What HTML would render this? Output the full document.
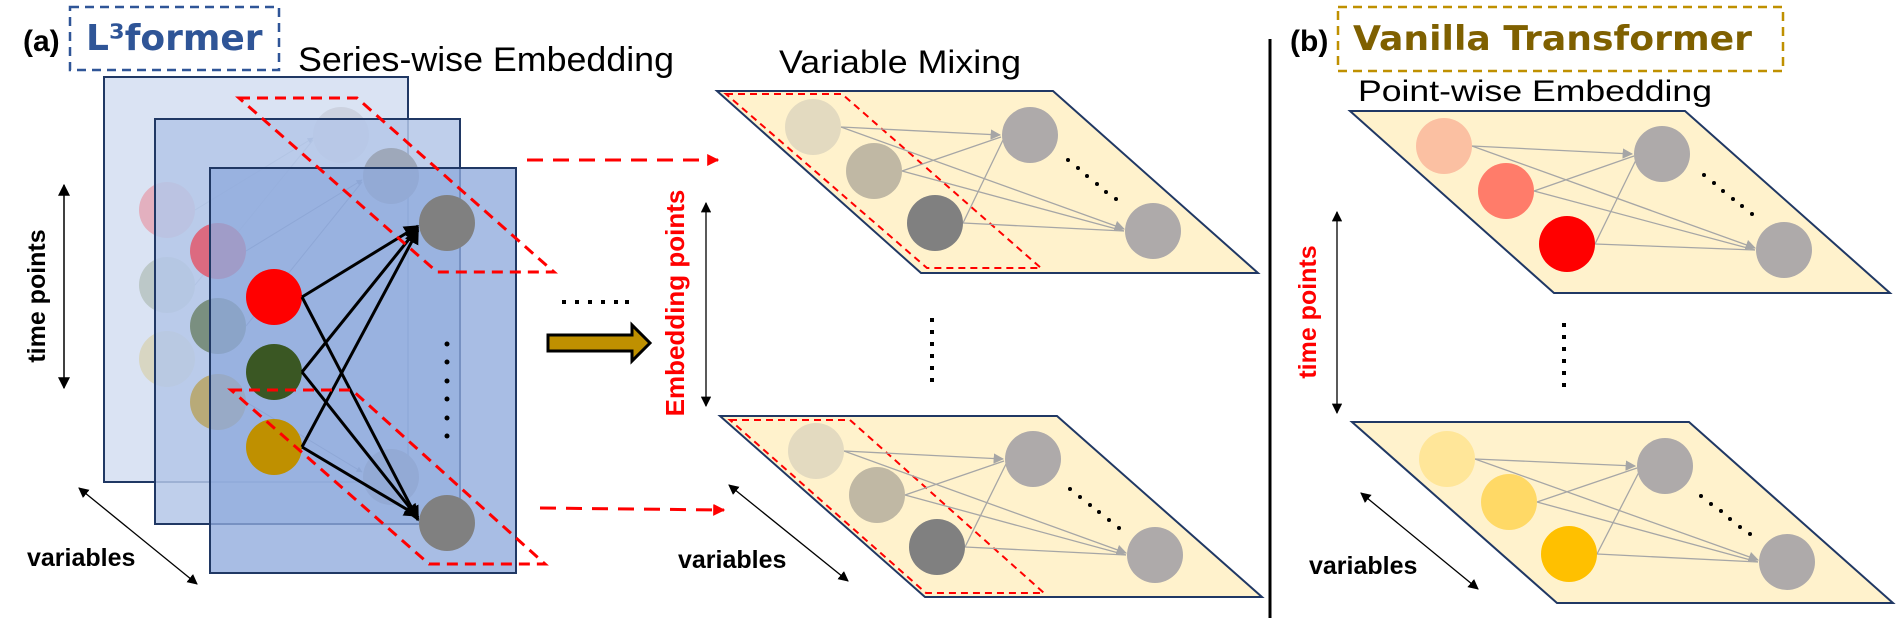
<!DOCTYPE html>
<html><head><meta charset="utf-8"><style>
html,body{margin:0;padding:0;background:#fff;}
svg{display:block;font-family:"Liberation Sans",sans-serif;}
</style></head><body>
<svg width="1896" height="618" viewBox="0 0 1896 618">
<defs>
<marker id="ab" viewBox="0 0 10 10" refX="9" refY="5" markerWidth="5" markerHeight="5" orient="auto"><path d="M0,0L10,5L0,10z" fill="#000"/></marker>
<marker id="ag" viewBox="0 0 10 10" refX="9" refY="5" markerWidth="8" markerHeight="8" orient="auto"><path d="M0,0L10,5L0,10z" fill="#a6a6a6"/></marker>
<marker id="ar" viewBox="0 0 10 10" refX="9" refY="5" markerWidth="4" markerHeight="4" orient="auto"><path d="M0,0L10,5L0,10z" fill="#ff0000"/></marker>
<marker id="ak" viewBox="0 0 10 10" refX="9" refY="5" markerWidth="8" markerHeight="8" orient="auto-start-reverse"><path d="M0,0L10,5L0,10z" fill="#000"/></marker>
<marker id="af" viewBox="0 0 10 10" refX="9" refY="5" markerWidth="6" markerHeight="6" orient="auto"><path d="M0,0L10,5L0,10z" fill="#8a9cc0"/></marker>
</defs>

<!-- Panel (a) -->
<text x="23" y="51" font-size="30" font-weight="bold">(a)</text>
<rect x="70" y="7" width="209" height="63" fill="none" stroke="#2f5597" stroke-width="2.5" stroke-dasharray="9,6"/>
<text x="86" y="50" font-size="36" font-weight="bold" fill="#2f5597" font-family="DejaVu Sans, sans-serif">L³former</text>
<text x="298" y="71" font-size="34" textLength="376" lengthAdjust="spacingAndGlyphs">Series-wise Embedding</text>

<g>
<rect x="104" y="77" width="304" height="405" fill="#dae3f3" stroke="#203864" stroke-width="2"/>
<circle cx="167" cy="210" r="28" fill="#e3b0bf"/>
<circle cx="167" cy="285" r="28" fill="#bcc8c8"/>
<circle cx="167" cy="359" r="28" fill="#d8d6c2"/>
<circle cx="341" cy="135" r="28" fill="#ccd2e0"/>
<line x1="195" y1="210" x2="313" y2="138" stroke="#a8b4cc" stroke-width="1" marker-end="url(#af)"/>
<line x1="195" y1="285" x2="313" y2="140" stroke="#a8b4cc" stroke-width="1"/>
</g>
<g>
<rect x="155" y="119" width="305" height="405" fill="#b4c7e7" fill-opacity="0.85" stroke="#203864" stroke-width="2"/>
<circle cx="218" cy="251" r="28" fill="#dc6a80"/>
<circle cx="218" cy="326" r="28" fill="#7a8f80"/>
<circle cx="218" cy="402" r="28" fill="#b8aa78"/>
<circle cx="391" cy="176" r="28" fill="#9ea8ba"/>
<circle cx="391" cy="477" r="28" fill="#9ea8ba"/>
<line x1="246" y1="251" x2="362" y2="180" stroke="#8a9cc0" stroke-width="1" marker-end="url(#af)"/>
<line x1="246" y1="326" x2="362" y2="182" stroke="#8a9cc0" stroke-width="1"/>
<line x1="246" y1="402" x2="362" y2="472" stroke="#8a9cc0" stroke-width="1" marker-end="url(#af)"/>
</g>
<g>
<rect x="210" y="168" width="306" height="405" fill="#8faadc" fill-opacity="0.78" stroke="#203864" stroke-width="2"/>
<circle cx="274" cy="297" r="28" fill="#ff0000"/>
<circle cx="274" cy="372" r="28" fill="#3a5723"/>
<circle cx="274" cy="447" r="28" fill="#bf9000"/>
<circle cx="447" cy="223" r="28" fill="#808080"/>
<circle cx="447" cy="523" r="28" fill="#808080"/>
<g fill="#000"><circle cx="447" cy="344" r="2.5"/><circle cx="447" cy="362" r="2.5"/><circle cx="447" cy="381" r="2.5"/><circle cx="447" cy="399" r="2.5"/><circle cx="447" cy="418" r="2.5"/><circle cx="447" cy="436" r="2.5"/></g>
<g stroke="#000" stroke-width="3" fill="none">
<line x1="302" y1="297" x2="418" y2="226" marker-end="url(#ab)"/>
<line x1="302" y1="372" x2="418" y2="228" marker-end="url(#ab)"/>
<line x1="302" y1="447" x2="418" y2="230" marker-end="url(#ab)"/>
<line x1="302" y1="297" x2="418" y2="520" marker-end="url(#ab)"/>
<line x1="302" y1="372" x2="418" y2="518" marker-end="url(#ab)"/>
<line x1="302" y1="447" x2="418" y2="516" marker-end="url(#ab)"/>
</g>
</g>
<polygon points="239,98 357,98 554,272 437,272" fill="none" stroke="#ff0000" stroke-width="3" stroke-dasharray="11,7"/>
<polygon points="231,390 352,390 545,564 429,564" fill="none" stroke="#ff0000" stroke-width="3" stroke-dasharray="11,7"/>

<line x1="64" y1="185" x2="64" y2="388" stroke="#000" stroke-width="1.5" marker-start="url(#ak)" marker-end="url(#ak)"/>
<text transform="translate(45,296) rotate(-90)" text-anchor="middle" font-size="25" font-weight="bold">time points</text>
<line x1="79" y1="488" x2="197" y2="584" stroke="#000" stroke-width="1.3" marker-start="url(#ak)" marker-end="url(#ak)"/>
<text x="27" y="566" font-size="25" font-weight="bold">variables</text>

<line x1="527" y1="160" x2="718" y2="160" stroke="#ff0000" stroke-width="3" stroke-dasharray="16,10" marker-end="url(#ar)"/>
<line x1="540" y1="508" x2="724" y2="510" stroke="#ff0000" stroke-width="3" stroke-dasharray="16,10" marker-end="url(#ar)"/>
<g fill="#000"><rect x="562" y="300" width="4" height="4"/><rect x="575" y="300" width="4" height="4"/><rect x="588" y="300" width="4" height="4"/><rect x="601" y="300" width="4" height="4"/><rect x="614" y="300" width="4" height="4"/><rect x="625" y="300" width="4" height="4"/></g>
<polygon points="548,335 632,335 632,325 650,343 632,361 632,351 548,351" fill="#bf9000" stroke="#000" stroke-width="3"/>
<text transform="translate(684,303) rotate(-90)" text-anchor="middle" font-size="26" font-weight="bold" fill="#ff0000">Embedding points</text>
<line x1="706" y1="203" x2="706" y2="406" stroke="#000" stroke-width="1.3" marker-start="url(#ak)" marker-end="url(#ak)"/>
<text x="779" y="73" font-size="32" textLength="242" lengthAdjust="spacingAndGlyphs">Variable Mixing</text>

<g>
<polygon points="717,91 1053,91 1258,273 921,273" fill="#fff2cc" stroke="#203864" stroke-width="2"/>
<polygon points="726,94 842,94 1041,268 927,268" fill="none" stroke="#ff0000" stroke-width="2" stroke-dasharray="7,5"/>
<g stroke="#a6a6a6" stroke-width="1.3" fill="none">
<line x1="841" y1="127" x2="1000" y2="135" marker-end="url(#ag)"/>
<line x1="841" y1="127" x2="1124" y2="229" marker-end="url(#ag)"/>
<line x1="902" y1="171" x2="1001" y2="137"/>
<line x1="902" y1="171" x2="1124" y2="231"/>
<line x1="963" y1="223" x2="1003" y2="140"/>
<line x1="963" y1="223" x2="1124" y2="231"/>
</g>
<circle cx="813" cy="127" r="28" fill="#e3dac0"/>
<circle cx="874" cy="171" r="28" fill="#c0b8a4"/>
<circle cx="935" cy="223" r="28" fill="#808080"/>
<circle cx="1030" cy="135" r="28" fill="#aeaaaa"/>
<circle cx="1153" cy="231" r="28" fill="#aeaaaa"/>
<g fill="#000"><circle cx="1068" cy="160" r="2"/><circle cx="1078" cy="168" r="2"/><circle cx="1087" cy="176" r="2"/><circle cx="1097" cy="184" r="2"/><circle cx="1106" cy="192" r="2"/><circle cx="1116" cy="199" r="2"/></g>
</g>
<g fill="#000"><rect x="930" y="318" width="4" height="4"/><rect x="930" y="330" width="4" height="4"/><rect x="930" y="342" width="4" height="4"/><rect x="930" y="354" width="4" height="4"/><rect x="930" y="366" width="4" height="4"/><rect x="930" y="378" width="4" height="4"/></g>
<g>
<polygon points="720,416 1057,416 1262,597 925,597" fill="#fff2cc" stroke="#203864" stroke-width="2"/>
<polygon points="730,420 850,420 1044,593 926,593" fill="none" stroke="#ff0000" stroke-width="2" stroke-dasharray="7,5"/>
<g stroke="#a6a6a6" stroke-width="1.3" fill="none">
<line x1="844" y1="451" x2="1003" y2="459" marker-end="url(#ag)"/>
<line x1="844" y1="451" x2="1126" y2="553" marker-end="url(#ag)"/>
<line x1="905" y1="495" x2="1004" y2="461"/>
<line x1="905" y1="495" x2="1126" y2="555"/>
<line x1="965" y1="547" x2="1006" y2="464"/>
<line x1="965" y1="547" x2="1126" y2="555"/>
</g>
<circle cx="816" cy="451" r="28" fill="#e3dac0"/>
<circle cx="877" cy="495" r="28" fill="#c0b8a4"/>
<circle cx="937" cy="547" r="28" fill="#808080"/>
<circle cx="1033" cy="459" r="28" fill="#aeaaaa"/>
<circle cx="1155" cy="555" r="28" fill="#aeaaaa"/>
<g fill="#000"><circle cx="1070" cy="489" r="2"/><circle cx="1080" cy="497" r="2"/><circle cx="1090" cy="505" r="2"/><circle cx="1099" cy="512" r="2"/><circle cx="1109" cy="520" r="2"/><circle cx="1119" cy="528" r="2"/></g>
</g>
<line x1="729" y1="485" x2="848" y2="581" stroke="#000" stroke-width="1.3" marker-start="url(#ak)" marker-end="url(#ak)"/>
<text x="678" y="568" font-size="25" font-weight="bold">variables</text>

<line x1="1270" y1="39" x2="1270" y2="618" stroke="#000" stroke-width="3"/>

<!-- Panel (b) -->
<text x="1290" y="51" font-size="30" font-weight="bold">(b)</text>
<rect x="1338" y="7" width="445" height="64" fill="none" stroke="#bf9000" stroke-width="2.5" stroke-dasharray="9,6"/>
<text x="1353" y="50" font-size="34" font-weight="bold" fill="#7f6000" font-family="DejaVu Sans, sans-serif" textLength="399" lengthAdjust="spacingAndGlyphs">Vanilla Transformer</text>
<text x="1358" y="101" font-size="30" textLength="354" lengthAdjust="spacingAndGlyphs">Point-wise Embedding</text>

<g>
<polygon points="1350,111 1685,111 1890,293 1554,293" fill="#fff2cc" stroke="#203864" stroke-width="2"/>
<g stroke="#a6a6a6" stroke-width="1.3" fill="none">
<line x1="1472" y1="146" x2="1632" y2="154" marker-end="url(#ag)"/>
<line x1="1472" y1="146" x2="1755" y2="248" marker-end="url(#ag)"/>
<line x1="1534" y1="191" x2="1634" y2="156"/>
<line x1="1534" y1="191" x2="1755" y2="250"/>
<line x1="1595" y1="244" x2="1636" y2="160"/>
<line x1="1595" y1="244" x2="1755" y2="250"/>
</g>
<circle cx="1444" cy="146" r="28" fill="#fbc0a2"/>
<circle cx="1506" cy="191" r="28" fill="#ff7c6a"/>
<circle cx="1567" cy="244" r="28" fill="#ff0000"/>
<circle cx="1662" cy="154" r="28" fill="#aeaaaa"/>
<circle cx="1784" cy="250" r="28" fill="#aeaaaa"/>
<g fill="#000"><circle cx="1704" cy="175" r="2"/><circle cx="1714" cy="183" r="2"/><circle cx="1723" cy="191" r="2"/><circle cx="1733" cy="199" r="2"/><circle cx="1742" cy="206" r="2"/><circle cx="1752" cy="214" r="2"/></g>
</g>
<g fill="#000"><rect x="1562" y="323" width="4" height="4"/><rect x="1562" y="335" width="4" height="4"/><rect x="1562" y="347" width="4" height="4"/><rect x="1562" y="359" width="4" height="4"/><rect x="1562" y="371" width="4" height="4"/><rect x="1562" y="383" width="4" height="4"/></g>
<g>
<polygon points="1352,422 1689,422 1893,603 1557,603" fill="#fff2cc" stroke="#203864" stroke-width="2"/>
<g stroke="#a6a6a6" stroke-width="1.3" fill="none">
<line x1="1475" y1="459" x2="1635" y2="466" marker-end="url(#ag)"/>
<line x1="1475" y1="459" x2="1758" y2="560" marker-end="url(#ag)"/>
<line x1="1537" y1="502" x2="1637" y2="468"/>
<line x1="1537" y1="502" x2="1758" y2="562"/>
<line x1="1597" y1="554" x2="1639" y2="472"/>
<line x1="1597" y1="554" x2="1758" y2="562"/>
</g>
<circle cx="1447" cy="459" r="28" fill="#ffe699"/>
<circle cx="1509" cy="502" r="28" fill="#ffd966"/>
<circle cx="1569" cy="554" r="28" fill="#ffc000"/>
<circle cx="1665" cy="466" r="28" fill="#aeaaaa"/>
<circle cx="1787" cy="562" r="28" fill="#aeaaaa"/>
<g fill="#000"><circle cx="1701" cy="496" r="2"/><circle cx="1711" cy="504" r="2"/><circle cx="1721" cy="511" r="2"/><circle cx="1730" cy="519" r="2"/><circle cx="1740" cy="527" r="2"/><circle cx="1750" cy="534" r="2"/></g>
</g>
<line x1="1337" y1="212" x2="1337" y2="413" stroke="#000" stroke-width="1.3" marker-start="url(#ak)" marker-end="url(#ak)"/>
<text transform="translate(1316,312) rotate(-90)" text-anchor="middle" font-size="25" font-weight="bold" fill="#ff0000">time points</text>
<line x1="1361" y1="493" x2="1478" y2="589" stroke="#000" stroke-width="1.3" marker-start="url(#ak)" marker-end="url(#ak)"/>
<text x="1309" y="574" font-size="25" font-weight="bold">variables</text>
</svg>
</body></html>
